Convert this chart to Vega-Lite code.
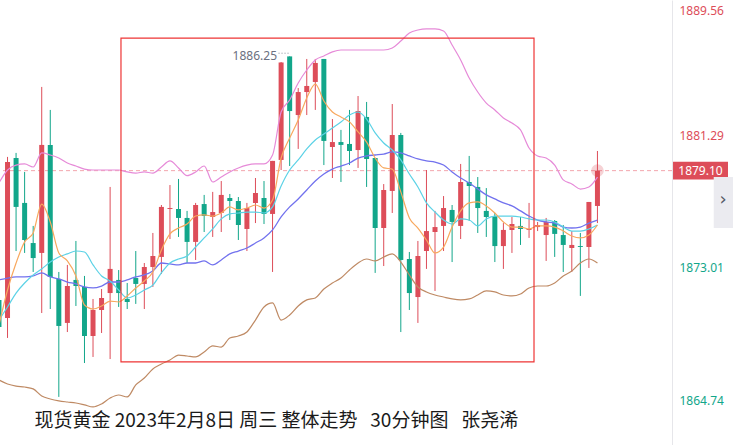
{
  "$schema": "https://vega.github.io/schema/vega-lite/v6.json",
  "width": 672,
  "height": 445,
  "autosize": {"type": "none"},
  "padding": {"left": 0, "top": 0, "right": 61, "bottom": 0},
  "background": "white",
  "config": {
    "view": {"stroke": null},
    "font": "Noto Sans",
    "scale": {"continuousPadding": 0},
    "axisY": {"title": null, "grid": false, "ticks": false, "domain": true, "domainColor": "#e6e6ea", "domainWidth": 1, "labelPadding": 7, "labelFont": "Noto Sans", "labelFontSize": 12, "labelFlush": false, "labelOverlap": false, "labelBound": false}
  },
  "title": {
    "text": "现货黄金 2023年2月8日 周三 整体走势\u00a0\u00a0 30分钟图\u00a0\u00a0 张尧浠",
    "orient": "bottom",
    "anchor": "start",
    "offset": -33,
    "dx": 35,
    "font": "Noto Sans CJK SC",
    "fontSize": 19,
    "fontWeight": "normal",
    "color": "#1a1a1a"
  },
  "datasets": {
    "c": [
      {"i":0,"o":1871.01,"h":1871.32,"l":1869.00,"c":1869.32},
      {"i":1,"o":1869.88,"h":1879.96,"l":1868.63,"c":1879.64},
      {"i":2,"o":1879.89,"h":1880.21,"l":1874.07,"c":1876.83},
      {"i":3,"o":1877.08,"h":1879.02,"l":1873.95,"c":1874.76},
      {"i":4,"o":1874.57,"h":1875.64,"l":1872.76,"c":1873.63},
      {"i":5,"o":1873.95,"h":1884.34,"l":1870.19,"c":1880.71},
      {"i":6,"o":1880.71,"h":1882.90,"l":1870.44,"c":1872.45},
      {"i":7,"o":1872.32,"h":1872.76,"l":1864.94,"c":1869.38},
      {"i":8,"o":1869.57,"h":1873.20,"l":1869.00,"c":1871.88},
      {"i":9,"o":1872.26,"h":1874.70,"l":1870.63,"c":1871.88},
      {"i":10,"o":1871.82,"h":1872.51,"l":1867.06,"c":1868.75},
      {"i":11,"o":1868.75,"h":1871.07,"l":1867.44,"c":1870.38},
      {"i":12,"o":1870.38,"h":1871.69,"l":1868.94,"c":1871.13},
      {"i":13,"o":1871.44,"h":1878.08,"l":1867.31,"c":1872.95},
      {"i":14,"o":1872.26,"h":1872.88,"l":1870.57,"c":1871.44},
      {"i":15,"o":1871.07,"h":1872.07,"l":1870.44,"c":1870.88},
      {"i":16,"o":1872.38,"h":1874.07,"l":1870.76,"c":1872.01},
      {"i":17,"o":1872.01,"h":1873.32,"l":1870.44,"c":1873.07},
      {"i":18,"o":1873.07,"h":1875.20,"l":1871.82,"c":1873.76},
      {"i":19,"o":1873.70,"h":1876.95,"l":1872.63,"c":1876.83},
      {"i":20,"o":1876.70,"h":1878.20,"l":1874.82,"c":1876.76},
      {"i":21,"o":1876.70,"h":1878.58,"l":1874.95,"c":1876.14},
      {"i":22,"o":1876.14,"h":1876.58,"l":1873.32,"c":1874.64},
      {"i":23,"o":1874.64,"h":1877.08,"l":1873.51,"c":1876.95},
      {"i":24,"o":1877.01,"h":1877.58,"l":1875.26,"c":1876.26},
      {"i":25,"o":1876.20,"h":1877.77,"l":1874.95,"c":1876.51},
      {"i":26,"o":1876.45,"h":1878.45,"l":1875.26,"c":1877.58},
      {"i":27,"o":1877.39,"h":1877.64,"l":1876.01,"c":1877.20},
      {"i":28,"o":1877.20,"h":1877.45,"l":1874.76,"c":1875.70},
      {"i":29,"o":1875.45,"h":1877.08,"l":1874.07,"c":1876.76},
      {"i":30,"o":1877.08,"h":1878.64,"l":1875.82,"c":1877.70},
      {"i":31,"o":1877.39,"h":1878.45,"l":1875.76,"c":1876.39},
      {"i":32,"o":1876.39,"h":1879.71,"l":1872.76,"c":1879.71},
      {"i":33,"o":1879.77,"h":1885.90,"l":1879.14,"c":1885.87},
      {"i":34,"o":1886.25,"h":1886.25,"l":1879.39,"c":1882.83},
      {"i":35,"o":1882.58,"h":1884.27,"l":1880.46,"c":1884.02},
      {"i":36,"o":1884.02,"h":1886.09,"l":1882.58,"c":1884.40},
      {"i":37,"o":1884.65,"h":1886.09,"l":1882.90,"c":1885.84},
      {"i":38,"o":1886.09,"h":1886.09,"l":1879.45,"c":1880.96},
      {"i":39,"o":1880.58,"h":1882.33,"l":1878.64,"c":1880.89},
      {"i":40,"o":1880.89,"h":1881.65,"l":1878.39,"c":1880.71},
      {"i":41,"o":1880.77,"h":1882.90,"l":1879.45,"c":1880.33},
      {"i":42,"o":1880.39,"h":1883.77,"l":1879.27,"c":1882.83},
      {"i":43,"o":1882.46,"h":1883.40,"l":1878.08,"c":1879.83},
      {"i":44,"o":1879.89,"h":1879.89,"l":1872.70,"c":1875.51},
      {"i":45,"o":1875.51,"h":1878.26,"l":1873.13,"c":1877.89},
      {"i":46,"o":1877.83,"h":1883.27,"l":1876.45,"c":1881.33},
      {"i":47,"o":1881.33,"h":1881.46,"l":1869.00,"c":1873.51},
      {"i":48,"o":1873.57,"h":1874.01,"l":1870.38,"c":1871.44},
      {"i":49,"o":1871.19,"h":1874.70,"l":1869.57,"c":1873.76},
      {"i":50,"o":1874.07,"h":1879.14,"l":1872.95,"c":1875.32},
      {"i":51,"o":1875.26,"h":1876.58,"l":1871.57,"c":1875.57},
      {"i":52,"o":1875.64,"h":1877.51,"l":1874.07,"c":1876.76},
      {"i":53,"o":1876.64,"h":1876.95,"l":1873.38,"c":1875.89},
      {"i":54,"o":1875.64,"h":1879.52,"l":1874.82,"c":1878.39},
      {"i":55,"o":1878.39,"h":1880.02,"l":1875.95,"c":1878.14},
      {"i":56,"o":1878.08,"h":1878.70,"l":1875.20,"c":1876.76},
      {"i":57,"o":1876.58,"h":1878.01,"l":1874.95,"c":1876.20},
      {"i":58,"o":1876.26,"h":1876.45,"l":1873.38,"c":1874.38},
      {"i":59,"o":1874.38,"h":1875.82,"l":1872.95,"c":1875.39},
      {"i":60,"o":1875.39,"h":1876.20,"l":1873.95,"c":1875.76},
      {"i":61,"o":1875.64,"h":1876.20,"l":1874.45,"c":1875.45},
      {"i":62,"o":1875.39,"h":1877.08,"l":1874.89,"c":1875.45},
      {"i":63,"o":1875.57,"h":1875.89,"l":1875.32,"c":1875.70},
      {"i":64,"o":1875.07,"h":1876.14,"l":1873.45,"c":1875.89},
      {"i":65,"o":1875.95,"h":1876.01,"l":1873.70,"c":1875.14},
      {"i":66,"o":1875.07,"h":1875.70,"l":1872.76,"c":1874.45},
      {"i":67,"o":1874.26,"h":1875.32,"l":1872.76,"c":1874.45},
      {"i":68,"o":1874.38,"h":1875.20,"l":1871.26,"c":1874.32},
      {"i":69,"o":1874.32,"h":1877.14,"l":1873.01,"c":1877.14},
      {"i":70,"o":1876.89,"h":1880.33,"l":1875.82,"c":1879.10}
    ],
    "m": [
      {"i":0,"ma5":1869.44,"ma10":1869.75,"ma30":1872.26,"up":1878.33,"dn":1866.00},
      {"i":1,"ma5":1871.63,"ma10":1870.57,"ma30":1872.38,"up":1879.14,"dn":1865.75},
      {"i":2,"ma5":1873.32,"ma10":1871.44,"ma30":1872.45,"up":1879.45,"dn":1865.62},
      {"i":3,"ma5":1874.64,"ma10":1872.07,"ma30":1872.45,"up":1879.52,"dn":1865.56},
      {"i":4,"ma5":1875.20,"ma10":1872.57,"ma30":1872.51,"up":1879.33,"dn":1865.44},
      {"i":5,"ma5":1877.01,"ma10":1872.95,"ma30":1872.70,"up":1880.21,"dn":1865.00},
      {"i":6,"ma5":1875.89,"ma10":1873.38,"ma30":1872.45,"up":1880.08,"dn":1864.81},
      {"i":7,"ma5":1873.95,"ma10":1873.70,"ma30":1872.32,"up":1879.89,"dn":1864.69},
      {"i":8,"ma5":1873.45,"ma10":1873.89,"ma30":1872.13,"up":1879.58,"dn":1864.62},
      {"i":9,"ma5":1872.51,"ma10":1874.07,"ma30":1872.01,"up":1879.39,"dn":1864.56},
      {"i":10,"ma5":1870.69,"ma10":1874.01,"ma30":1871.82,"up":1879.20,"dn":1864.44},
      {"i":11,"ma5":1870.44,"ma10":1873.20,"ma30":1871.76,"up":1879.14,"dn":1864.31},
      {"i":12,"ma5":1870.63,"ma10":1872.51,"ma30":1871.88,"up":1879.14,"dn":1864.50},
      {"i":13,"ma5":1870.94,"ma10":1872.19,"ma30":1872.13,"up":1879.14,"dn":1864.87},
      {"i":14,"ma5":1870.88,"ma10":1871.63,"ma30":1872.13,"up":1879.14,"dn":1865.06},
      {"i":15,"ma5":1871.26,"ma10":1871.13,"ma30":1872.26,"up":1879.02,"dn":1864.94},
      {"i":16,"ma5":1871.76,"ma10":1871.32,"ma30":1872.45,"up":1878.95,"dn":1865.69},
      {"i":17,"ma5":1872.19,"ma10":1871.63,"ma30":1872.57,"up":1879.02,"dn":1866.12},
      {"i":18,"ma5":1872.76,"ma10":1871.94,"ma30":1872.82,"up":1878.95,"dn":1866.69},
      {"i":19,"ma5":1874.14,"ma10":1872.70,"ma30":1873.32,"up":1879.33,"dn":1867.00},
      {"i":20,"ma5":1875.14,"ma10":1873.32,"ma30":1873.26,"up":1879.71,"dn":1867.25},
      {"i":21,"ma5":1875.51,"ma10":1873.57,"ma30":1873.20,"up":1879.27,"dn":1867.56},
      {"i":22,"ma5":1875.76,"ma10":1873.76,"ma30":1873.32,"up":1878.79,"dn":1867.50},
      {"i":23,"ma5":1876.26,"ma10":1874.32,"ma30":1873.32,"up":1879.02,"dn":1867.44},
      {"i":24,"ma5":1876.33,"ma10":1874.89,"ma30":1873.45,"up":1879.39,"dn":1867.75},
      {"i":25,"ma5":1876.26,"ma10":1875.45,"ma30":1873.20,"up":1878.39,"dn":1868.13},
      {"i":26,"ma5":1876.45,"ma10":1876.08,"ma30":1873.51,"up":1878.70,"dn":1868.06},
      {"i":27,"ma5":1876.83,"ma10":1876.39,"ma30":1873.89,"up":1879.02,"dn":1868.63},
      {"i":28,"ma5":1876.64,"ma10":1876.45,"ma30":1874.07,"up":1879.27,"dn":1868.75},
      {"i":29,"ma5":1876.76,"ma10":1876.51,"ma30":1874.26,"up":1879.45,"dn":1869.00},
      {"i":30,"ma5":1876.95,"ma10":1876.51,"ma30":1874.57,"up":1879.52,"dn":1869.75},
      {"i":31,"ma5":1876.76,"ma10":1876.45,"ma30":1874.89,"up":1879.52,"dn":1870.57},
      {"i":32,"ma5":1877.26,"ma10":1876.83,"ma30":1875.39,"up":1880.08,"dn":1870.82},
      {"i":33,"ma5":1879.89,"ma10":1878.14,"ma30":1876.20,"up":1882.77,"dn":1869.75},
      {"i":34,"ma5":1881.14,"ma10":1879.14,"ma30":1876.83,"up":1883.52,"dn":1870.07},
      {"i":35,"ma5":1882.27,"ma10":1879.77,"ma30":1877.33,"up":1884.59,"dn":1870.63},
      {"i":36,"ma5":1883.65,"ma10":1880.46,"ma30":1877.89,"up":1885.40,"dn":1871.01},
      {"i":37,"ma5":1884.52,"ma10":1881.02,"ma30":1878.45,"up":1886.03,"dn":1871.13},
      {"i":38,"ma5":1883.46,"ma10":1881.39,"ma30":1878.89,"up":1886.28,"dn":1871.69},
      {"i":39,"ma5":1882.77,"ma10":1881.77,"ma30":1879.20,"up":1886.53,"dn":1872.07},
      {"i":40,"ma5":1882.46,"ma10":1882.15,"ma30":1879.39,"up":1886.65,"dn":1872.38},
      {"i":41,"ma5":1882.15,"ma10":1882.58,"ma30":1879.58,"up":1886.65,"dn":1872.88},
      {"i":42,"ma5":1881.52,"ma10":1882.77,"ma30":1879.89,"up":1886.65,"dn":1873.32},
      {"i":43,"ma5":1880.89,"ma10":1882.33,"ma30":1880.02,"up":1886.65,"dn":1873.57},
      {"i":44,"ma5":1879.89,"ma10":1881.46,"ma30":1880.08,"up":1886.65,"dn":1873.45},
      {"i":45,"ma5":1879.27,"ma10":1880.83,"ma30":1880.14,"up":1886.65,"dn":1873.70},
      {"i":46,"ma5":1879.20,"ma10":1880.39,"ma30":1880.27,"up":1886.78,"dn":1873.89},
      {"i":47,"ma5":1877.77,"ma10":1879.77,"ma30":1880.21,"up":1887.21,"dn":1873.38},
      {"i":48,"ma5":1876.14,"ma10":1878.89,"ma30":1880.02,"up":1887.71,"dn":1872.57},
      {"i":49,"ma5":1875.51,"ma10":1878.08,"ma30":1879.83,"up":1887.90,"dn":1871.82},
      {"i":50,"ma5":1874.76,"ma10":1877.08,"ma30":1879.71,"up":1887.97,"dn":1871.51},
      {"i":51,"ma5":1873.95,"ma10":1876.51,"ma30":1879.64,"up":1887.97,"dn":1871.32},
      {"i":52,"ma5":1874.32,"ma10":1876.01,"ma30":1879.45,"up":1887.84,"dn":1871.19},
      {"i":53,"ma5":1875.57,"ma10":1875.76,"ma30":1879.02,"up":1886.96,"dn":1871.07},
      {"i":54,"ma5":1876.58,"ma10":1876.08,"ma30":1878.64,"up":1886.03,"dn":1871.01},
      {"i":55,"ma5":1877.08,"ma10":1876.01,"ma30":1878.33,"up":1884.90,"dn":1871.07},
      {"i":56,"ma5":1877.14,"ma10":1875.64,"ma30":1877.95,"up":1884.02,"dn":1871.32},
      {"i":57,"ma5":1876.89,"ma10":1876.08,"ma30":1877.58,"up":1883.33,"dn":1871.57},
      {"i":58,"ma5":1876.45,"ma10":1876.26,"ma30":1877.33,"up":1882.90,"dn":1871.51},
      {"i":59,"ma5":1875.89,"ma10":1876.26,"ma30":1877.08,"up":1882.40,"dn":1871.32},
      {"i":60,"ma5":1875.57,"ma10":1876.26,"ma30":1876.89,"up":1882.08,"dn":1871.26},
      {"i":61,"ma5":1875.57,"ma10":1876.20,"ma30":1876.58,"up":1881.65,"dn":1871.38},
      {"i":62,"ma5":1875.45,"ma10":1876.08,"ma30":1876.26,"up":1880.52,"dn":1871.76},
      {"i":63,"ma5":1875.64,"ma10":1876.01,"ma30":1876.01,"up":1880.02,"dn":1871.88},
      {"i":64,"ma5":1875.64,"ma10":1876.01,"ma30":1875.89,"up":1879.89,"dn":1871.88},
      {"i":65,"ma5":1875.57,"ma10":1875.89,"ma30":1875.82,"up":1879.45,"dn":1872.07},
      {"i":66,"ma5":1875.32,"ma10":1875.57,"ma30":1875.57,"up":1878.52,"dn":1872.51},
      {"i":67,"ma5":1875.01,"ma10":1875.32,"ma30":1875.51,"up":1878.27,"dn":1872.82},
      {"i":68,"ma5":1874.89,"ma10":1875.32,"ma30":1875.57,"up":1877.95,"dn":1873.32},
      {"i":69,"ma5":1875.07,"ma10":1875.45,"ma30":1875.82,"up":1878.08,"dn":1873.57},
      {"i":70,"ma5":1875.70,"ma10":1875.70,"ma30":1876.01,"up":1878.70,"dn":1873.32}
    ]
  },
  "layer": [
    {
      "data": {"values": [{"p": 1879.10}]},
      "mark": {"type": "rule", "stroke": "#f3a6ad", "strokeWidth": 1, "strokeDash": [4, 3]},
      "encoding": {
        "y": {"field": "p", "type": "quantitative", "scale": {"domain": [1861.93, 1889.78], "nice": false, "zero": false},
          "axis": {"orient": "right", "values": [1889.56, 1881.29, 1873.01, 1864.74], "format": ".2f",
            "labelColor": {"condition": {"test": "datum.value > 1879.1", "value": "#dd4d59"}, "value": "#12a68a"},
            "labelOffset": {"condition": {"test": "datum.value > 1889", "value": 7}, "value": 0}}}
      }
    },
    {
      "data": {"name": "c"},
      "mark": {"type": "rule", "strokeWidth": 1, "clip": true},
      "encoding": {
        "x": {"field": "i", "type": "quantitative", "scale": {"domain": [0.12, 78.72], "nice": false, "zero": false, "padding": 0}, "axis": null},
        "y": {"field": "l", "type": "quantitative", "scale": {"domain": [1861.93, 1889.78], "nice": false, "zero": false},
          "axis": {"orient": "right", "values": [1889.56, 1881.29, 1873.01, 1864.74], "format": ".2f",
            "labelColor": {"condition": {"test": "datum.value > 1879.1", "value": "#dd4d59"}, "value": "#12a68a"},
            "labelOffset": {"condition": {"test": "datum.value > 1889", "value": 7}, "value": 0}}},
        "y2": {"field": "h"},
        "color": {"condition": {"test": "datum.c >= datum.o", "value": "#dd4d59"}, "value": "#12a68a"}
      }
    },
    {
      "data": {"name": "c"},
      "mark": {"type": "bar", "size": 5, "clip": true},
      "encoding": {
        "x": {"field": "i", "type": "quantitative", "scale": {"domain": [0.12, 78.72], "nice": false, "zero": false, "padding": 0}, "axis": null},
        "y": {"field": "o", "type": "quantitative", "scale": {"domain": [1861.93, 1889.78], "nice": false, "zero": false},
          "axis": {"orient": "right", "values": [1889.56, 1881.29, 1873.01, 1864.74], "format": ".2f",
            "labelColor": {"condition": {"test": "datum.value > 1879.1", "value": "#dd4d59"}, "value": "#12a68a"},
            "labelOffset": {"condition": {"test": "datum.value > 1889", "value": 7}, "value": 0}}},
        "y2": {"field": "c"},
        "color": {"condition": {"test": "datum.c >= datum.o", "value": "#dd4d59"}, "value": "#12a68a"}
      }
    },
    {
      "data": {"name": "m"},
      "mark": {"type": "line", "stroke": "#bf8a64", "strokeWidth": 1.2, "interpolate": "monotone", "clip": true},
      "encoding": {
        "x": {"field": "i", "type": "quantitative", "scale": {"domain": [0.12, 78.72], "nice": false, "zero": false, "padding": 0}, "axis": null},
        "y": {"field": "dn", "type": "quantitative", "scale": {"domain": [1861.93, 1889.78], "nice": false, "zero": false},
          "axis": {"orient": "right", "values": [1889.56, 1881.29, 1873.01, 1864.74], "format": ".2f",
            "labelColor": {"condition": {"test": "datum.value > 1879.1", "value": "#dd4d59"}, "value": "#12a68a"},
            "labelOffset": {"condition": {"test": "datum.value > 1889", "value": 7}, "value": 0}}}
      }
    },
    {
      "data": {"name": "m"},
      "mark": {"type": "line", "stroke": "#e68ad8", "strokeWidth": 1.2, "interpolate": "monotone", "clip": true},
      "encoding": {
        "x": {"field": "i", "type": "quantitative", "scale": {"domain": [0.12, 78.72], "nice": false, "zero": false, "padding": 0}, "axis": null},
        "y": {"field": "up", "type": "quantitative", "scale": {"domain": [1861.93, 1889.78], "nice": false, "zero": false},
          "axis": {"orient": "right", "values": [1889.56, 1881.29, 1873.01, 1864.74], "format": ".2f",
            "labelColor": {"condition": {"test": "datum.value > 1879.1", "value": "#dd4d59"}, "value": "#12a68a"},
            "labelOffset": {"condition": {"test": "datum.value > 1889", "value": 7}, "value": 0}}}
      }
    },
    {
      "data": {"name": "m"},
      "mark": {"type": "line", "stroke": "#7272ee", "strokeWidth": 1.3, "interpolate": "monotone", "clip": true},
      "encoding": {
        "x": {"field": "i", "type": "quantitative", "scale": {"domain": [0.12, 78.72], "nice": false, "zero": false, "padding": 0}, "axis": null},
        "y": {"field": "ma30", "type": "quantitative", "scale": {"domain": [1861.93, 1889.78], "nice": false, "zero": false},
          "axis": {"orient": "right", "values": [1889.56, 1881.29, 1873.01, 1864.74], "format": ".2f",
            "labelColor": {"condition": {"test": "datum.value > 1879.1", "value": "#dd4d59"}, "value": "#12a68a"},
            "labelOffset": {"condition": {"test": "datum.value > 1889", "value": 7}, "value": 0}}}
      }
    },
    {
      "data": {"name": "m"},
      "mark": {"type": "line", "stroke": "#5cd2e6", "strokeWidth": 1.2, "interpolate": "monotone", "clip": true},
      "encoding": {
        "x": {"field": "i", "type": "quantitative", "scale": {"domain": [0.12, 78.72], "nice": false, "zero": false, "padding": 0}, "axis": null},
        "y": {"field": "ma10", "type": "quantitative", "scale": {"domain": [1861.93, 1889.78], "nice": false, "zero": false},
          "axis": {"orient": "right", "values": [1889.56, 1881.29, 1873.01, 1864.74], "format": ".2f",
            "labelColor": {"condition": {"test": "datum.value > 1879.1", "value": "#dd4d59"}, "value": "#12a68a"},
            "labelOffset": {"condition": {"test": "datum.value > 1889", "value": 7}, "value": 0}}}
      }
    },
    {
      "data": {"name": "m"},
      "mark": {"type": "line", "stroke": "#f8a85e", "strokeWidth": 1.2, "interpolate": "monotone", "clip": true},
      "encoding": {
        "x": {"field": "i", "type": "quantitative", "scale": {"domain": [0.12, 78.72], "nice": false, "zero": false, "padding": 0}, "axis": null},
        "y": {"field": "ma5", "type": "quantitative", "scale": {"domain": [1861.93, 1889.78], "nice": false, "zero": false},
          "axis": {"orient": "right", "values": [1889.56, 1881.29, 1873.01, 1864.74], "format": ".2f",
            "labelColor": {"condition": {"test": "datum.value > 1879.1", "value": "#dd4d59"}, "value": "#12a68a"},
            "labelOffset": {"condition": {"test": "datum.value > 1889", "value": 7}, "value": 0}}}
      }
    },
    {
      "data": {"values": [{"a": 14.27, "b": 62.58, "top": 1887.40, "bot": 1867.13}]},
      "mark": {"type": "rect", "fillOpacity": 0, "stroke": "#ee3535", "strokeWidth": 1.2},
      "encoding": {
        "x": {"field": "a", "type": "quantitative", "scale": {"domain": [0.12, 78.72], "nice": false, "zero": false, "padding": 0}, "axis": null},
        "x2": {"field": "b"},
        "y": {"field": "top", "type": "quantitative", "scale": {"domain": [1861.93, 1889.78], "nice": false, "zero": false},
          "axis": {"orient": "right", "values": [1889.56, 1881.29, 1873.01, 1864.74], "format": ".2f",
            "labelColor": {"condition": {"test": "datum.value > 1879.1", "value": "#dd4d59"}, "value": "#12a68a"},
            "labelOffset": {"condition": {"test": "datum.value > 1889", "value": 7}, "value": 0}}},
        "y2": {"field": "bot"}
      }
    },
    {
      "data": {"values": [{"i": 70, "p": 1879.10}]},
      "mark": {"type": "point", "filled": true, "size": 160, "color": "#dd4d59", "opacity": 0.25},
      "encoding": {
        "x": {"field": "i", "type": "quantitative", "scale": {"domain": [0.12, 78.72], "nice": false, "zero": false, "padding": 0}, "axis": null},
        "y": {"field": "p", "type": "quantitative", "scale": {"domain": [1861.93, 1889.78], "nice": false, "zero": false},
          "axis": {"orient": "right", "values": [1889.56, 1881.29, 1873.01, 1864.74], "format": ".2f",
            "labelColor": {"condition": {"test": "datum.value > 1879.1", "value": "#dd4d59"}, "value": "#12a68a"},
            "labelOffset": {"condition": {"test": "datum.value > 1889", "value": 7}, "value": 0}}}
      }
    },
    {
      "data": {"values": [{"a": 32.52, "p": 1886.25, "t": "1886.25"}]},
      "mark": {"type": "text", "align": "right", "baseline": "middle", "fontSize": 12, "font": "Noto Sans", "color": "#6b7080"},
      "encoding": {
        "x": {"field": "a", "type": "quantitative", "scale": {"domain": [0.12, 78.72], "nice": false, "zero": false, "padding": 0}, "axis": null},
        "y": {"field": "p", "type": "quantitative", "scale": {"domain": [1861.93, 1889.78], "nice": false, "zero": false},
          "axis": {"orient": "right", "values": [1889.56, 1881.29, 1873.01, 1864.74], "format": ".2f",
            "labelColor": {"condition": {"test": "datum.value > 1879.1", "value": "#dd4d59"}, "value": "#12a68a"},
            "labelOffset": {"condition": {"test": "datum.value > 1889", "value": 7}, "value": 0}}},
        "text": {"field": "t"}
      }
    },
    {
      "data": {"values": [{"a": 32.7, "b": 34.0, "p": 1886.45}]},
      "mark": {"type": "rule", "stroke": "#8a8f9c", "strokeWidth": 1, "strokeDash": [1, 2]},
      "encoding": {
        "x": {"field": "a", "type": "quantitative", "scale": {"domain": [0.12, 78.72], "nice": false, "zero": false, "padding": 0}, "axis": null},
        "x2": {"field": "b"},
        "y": {"field": "p", "type": "quantitative", "scale": {"domain": [1861.93, 1889.78], "nice": false, "zero": false},
          "axis": {"orient": "right", "values": [1889.56, 1881.29, 1873.01, 1864.74], "format": ".2f",
            "labelColor": {"condition": {"test": "datum.value > 1879.1", "value": "#dd4d59"}, "value": "#12a68a"},
            "labelOffset": {"condition": {"test": "datum.value > 1889", "value": 7}, "value": 0}}}
      }
    },
    {
      "data": {"values": [{"a": 78.84, "b": 85.27, "top": 1879.66, "bot": 1878.54}]},
      "mark": {"type": "rect", "fill": "#dd4d59"},
      "encoding": {
        "x": {"field": "a", "type": "quantitative", "scale": {"domain": [0.12, 78.72], "nice": false, "zero": false, "padding": 0}, "axis": null},
        "x2": {"field": "b"},
        "y": {"field": "top", "type": "quantitative", "scale": {"domain": [1861.93, 1889.78], "nice": false, "zero": false},
          "axis": {"orient": "right", "values": [1889.56, 1881.29, 1873.01, 1864.74], "format": ".2f",
            "labelColor": {"condition": {"test": "datum.value > 1879.1", "value": "#dd4d59"}, "value": "#12a68a"},
            "labelOffset": {"condition": {"test": "datum.value > 1889", "value": 7}, "value": 0}}},
        "y2": {"field": "bot"}
      }
    },
    {
      "data": {"values": [{"a": 82.05, "p": 1879.10, "t": "1879.10"}]},
      "mark": {"type": "text", "align": "center", "baseline": "middle", "fontSize": 12, "font": "Noto Sans", "color": "white"},
      "encoding": {
        "x": {"field": "a", "type": "quantitative", "scale": {"domain": [0.12, 78.72], "nice": false, "zero": false, "padding": 0}, "axis": null},
        "y": {"field": "p", "type": "quantitative", "scale": {"domain": [1861.93, 1889.78], "nice": false, "zero": false},
          "axis": {"orient": "right", "values": [1889.56, 1881.29, 1873.01, 1864.74], "format": ".2f",
            "labelColor": {"condition": {"test": "datum.value > 1879.1", "value": "#dd4d59"}, "value": "#12a68a"},
            "labelOffset": {"condition": {"test": "datum.value > 1889", "value": 7}, "value": 0}}},
        "text": {"field": "t"}
      }
    },
    {
      "data": {"values": [{"a": 83.6, "b": 85.9, "top": 1878.70, "bot": 1875.51}]},
      "mark": {"type": "rect", "fill": "#ebebf0"},
      "encoding": {
        "x": {"field": "a", "type": "quantitative", "scale": {"domain": [0.12, 78.72], "nice": false, "zero": false, "padding": 0}, "axis": null},
        "x2": {"field": "b"},
        "y": {"field": "top", "type": "quantitative", "scale": {"domain": [1861.93, 1889.78], "nice": false, "zero": false},
          "axis": {"orient": "right", "values": [1889.56, 1881.29, 1873.01, 1864.74], "format": ".2f",
            "labelColor": {"condition": {"test": "datum.value > 1879.1", "value": "#dd4d59"}, "value": "#12a68a"},
            "labelOffset": {"condition": {"test": "datum.value > 1889", "value": 7}, "value": 0}}},
        "y2": {"field": "bot"}
      }
    },
    {
      "data": {"values": [{"a": 84.7, "p": 1877.26, "t": "›"}]},
      "mark": {"type": "text", "align": "center", "baseline": "middle", "fontSize": 18, "font": "DejaVu Sans", "color": "#555a66"},
      "encoding": {
        "x": {"field": "a", "type": "quantitative", "scale": {"domain": [0.12, 78.72], "nice": false, "zero": false, "padding": 0}, "axis": null},
        "y": {"field": "p", "type": "quantitative", "scale": {"domain": [1861.93, 1889.78], "nice": false, "zero": false},
          "axis": {"orient": "right", "values": [1889.56, 1881.29, 1873.01, 1864.74], "format": ".2f",
            "labelColor": {"condition": {"test": "datum.value > 1879.1", "value": "#dd4d59"}, "value": "#12a68a"},
            "labelOffset": {"condition": {"test": "datum.value > 1889", "value": 7}, "value": 0}}},
        "text": {"field": "t"}
      }
    }
  ]
}
